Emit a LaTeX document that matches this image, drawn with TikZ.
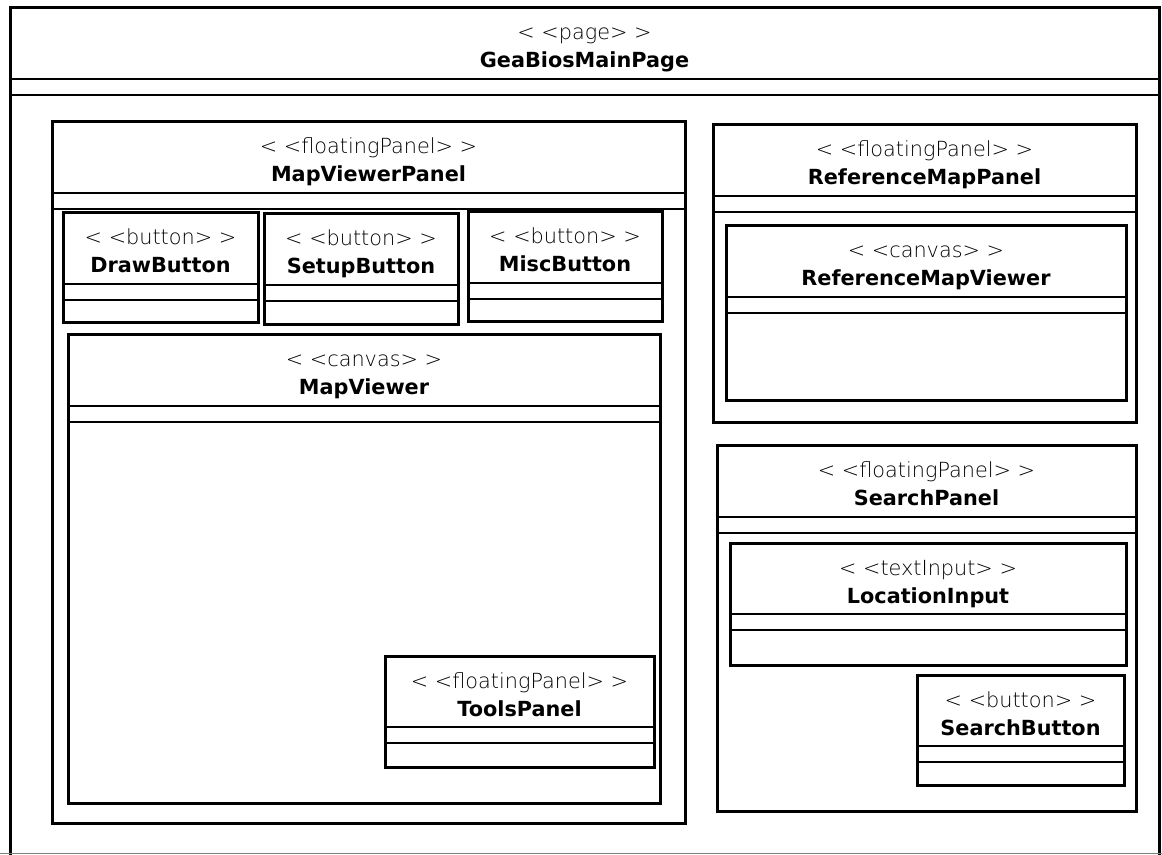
\documentclass[tikz,border=0pt]{standalone}
\usepackage{fontspec}
\setmainfont{DejaVu Sans}
\newfontfamily\stereofont{DejaVu Sans ExtraLight}
\usetikzlibrary{calc}
\def\HeadA{71}
\def\HeadB{87}
\tikzset{
  boxline/.style={line width=1.5pt},
  divline/.style={line width=0.7pt},
  stereo/.style={anchor=base,inner sep=0pt,font=\stereofont\fontsize{10.4}{12}\selectfont},
  title/.style={anchor=base,inner sep=0pt,font=\bfseries\fontsize{10.4}{13}\selectfont},
}
% #1 name, #2-#5 corners in px, #6 stereotype, #7 title
\newcommand{\umlclass}[7]{%
  \coordinate (#1-nw) at (#2,#3);
  \coordinate (#1-se) at (#4,#5);
  \coordinate (#1-ne) at (#4,#3);
  \draw[boxline] (#1-nw) rectangle (#1-se);
  \draw[divline] ($(#1-nw)+(0,\HeadA)$) -- ($(#1-ne)+(0,\HeadA)$);
  \draw[divline] ($(#1-nw)+(0,\HeadB)$) -- ($(#1-ne)+(0,\HeadB)$);
  \node[stereo] (#1-st) at ($(#1-nw)!0.5!(#1-ne)+(0,32)$) {< <#6> >};
  \node[title] (#1-name) at ($(#1-nw)!0.5!(#1-ne)+(0,60)$) {#7};
}

\begin{document}
\begin{tikzpicture}[x=0.5pt,y=-0.5pt]
  \useasboundingbox (0,0) rectangle (1162,855);
  % page frame, cut at the bottom
  \umlclass{page}{10}{8}{1159}{870}{page}{GeaBiosMainPage}
  \draw[gray,line width=0.5pt] (0,853) -- (1162,853);
  % map viewer side
  \umlclass{mvp}{52}{122}{685}{823}{floatingPanel}{MapViewerPanel}
  \umlclass{draw}{63}{213}{258}{323}{button}{DrawButton}
  \umlclass{setup}{264}{214}{458}{325}{button}{SetupButton}
  \umlclass{misc}{468}{212}{662}{322}{button}{MiscButton}
  \umlclass{mapv}{68}{335}{660}{803}{canvas}{MapViewer}
  \umlclass{tools}{385}{656}{654}{767}{floatingPanel}{ToolsPanel}
  % reference map
  \umlclass{refp}{713}{125}{1136}{423}{floatingPanel}{ReferenceMapPanel}
  \umlclass{refv}{726}{226}{1126}{401}{canvas}{ReferenceMapViewer}
  % search
  \umlclass{search}{717}{446}{1136}{811}{floatingPanel}{SearchPanel}
  \umlclass{loc}{730}{543}{1126}{665}{textInput}{LocationInput}
  \umlclass{sbtn}{917}{675}{1124}{785}{button}{SearchButton}
\end{tikzpicture}
\end{document}
